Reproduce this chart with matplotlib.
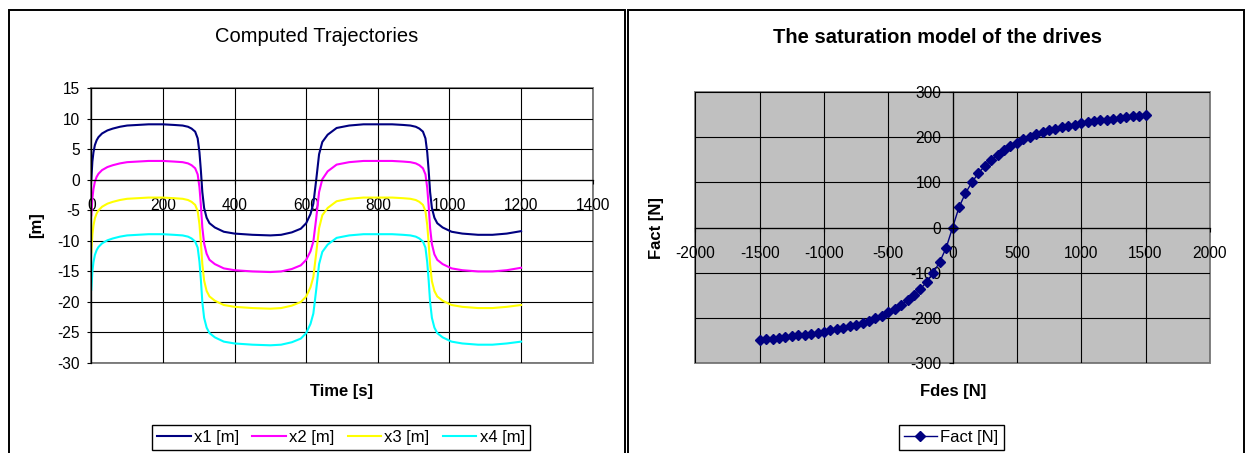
import matplotlib.pyplot as plt
from matplotlib.patches import Rectangle

plt.rcParams['font.family'] = ['Liberation Sans', 'DejaVu Sans']
plt.rcParams['axes.unicode_minus'] = False

# Траектории (время, с)
t = [0, 3, 6, 10, 15, 20, 30, 45, 60, 80,
     100, 130, 160, 200, 230, 255, 270, 280, 290, 297,
     302, 306, 310, 315, 322, 330, 345, 370, 400, 450,
     500, 530, 560, 585, 600, 612, 620, 628, 636, 645,
     660, 685, 720, 760, 800, 840, 870, 891, 906, 916,
     926, 933, 938, 942, 946, 951, 958, 966, 981, 1006,
     1036, 1080, 1120, 1160, 1200]

x1 = [0.0, 3.0, 4.5, 5.7, 6.5, 7.0, 7.6, 8.1, 8.4, 8.7,
      8.9, 9.0, 9.1, 9.1, 9.0, 8.9, 8.7, 8.4, 7.9, 6.8,
      4.5, 1.5, -2.0, -4.6, -6.2, -7.1, -7.8, -8.5, -8.8, -9.0,
      -9.1, -9.0, -8.6, -8.0, -7.1, -5.6, -3.9, 0.0, 4.2, 6.2,
      7.4, 8.5, 8.9, 9.1, 9.1, 9.1, 9.0, 8.9, 8.7, 8.4,
      7.9, 6.8, 4.5, 1.5, -2.0, -4.6, -6.2, -7.1, -7.8, -8.5,
      -8.8, -9.0, -9.0, -8.8, -8.4]

x2 = [-5.8, -3.0, -1.5, -0.3, 0.5, 1.0, 1.6, 2.1, 2.4, 2.7,
      2.9, 3.0, 3.1, 3.1, 3.0, 2.9, 2.7, 2.4, 1.9, 0.9,
      -1.2, -4.2, -7.8, -10.4, -12.1, -13.1, -13.8, -14.5, -14.8, -15.0,
      -15.1, -15.0, -14.6, -14.0, -13.1, -11.7, -10.1, -6.3, -2.0, 0.1,
      1.4, 2.5, 2.9, 3.1, 3.1, 3.1, 3.0, 2.9, 2.7, 2.4,
      1.9, 0.9, -1.3, -4.3, -7.9, -10.5, -12.2, -13.1, -13.8, -14.5,
      -14.8, -15.0, -15.0, -14.8, -14.4]

x3 = [-11.9, -9.0, -7.5, -6.3, -5.5, -5.0, -4.4, -3.9, -3.6, -3.3,
      -3.1, -3.0, -2.9, -2.9, -3.0, -3.1, -3.3, -3.6, -4.1, -5.1,
      -7.3, -10.3, -13.8, -16.5, -18.2, -19.1, -19.8, -20.5, -20.8, -21.0,
      -21.1, -21.0, -20.6, -20.0, -19.1, -17.6, -15.9, -12.0, -7.9, -5.8,
      -4.6, -3.5, -3.1, -2.9, -2.9, -2.9, -3.0, -3.1, -3.3, -3.6,
      -4.1, -5.1, -7.4, -10.4, -13.9, -16.6, -18.2, -19.1, -19.8, -20.5,
      -20.8, -21.0, -21.0, -20.8, -20.5]

x4 = [-18.0, -15.0, -13.5, -12.3, -11.5, -11.0, -10.4, -9.9, -9.6, -9.3,
      -9.1, -9.0, -8.9, -8.9, -9.0, -9.1, -9.3, -9.6, -10.1, -11.1,
      -13.4, -16.4, -20.0, -22.6, -24.2, -25.1, -25.8, -26.5, -26.8, -27.0,
      -27.1, -27.0, -26.6, -26.0, -25.1, -23.6, -21.9, -18.0, -13.8, -11.8,
      -10.6, -9.5, -9.1, -8.9, -8.9, -8.9, -9.0, -9.1, -9.3, -9.6,
      -10.1, -11.1, -13.5, -16.5, -20.0, -22.6, -24.2, -25.1, -25.8, -26.5,
      -26.8, -27.0, -27.0, -26.8, -26.5]

series = [("x1 [m]", x1, "#000080"), ("x2 [m]", x2, "#FF00FF"),
          ("x3 [m]", x3, "#FFFF00"), ("x4 [m]", x4, "#00FFFF")]

# Модель насыщения приводов
fdes = [-1500, -1450, -1400, -1350, -1300, -1250, -1200, -1150, -1100, -1050,
        -1000, -950, -900, -850, -800, -750, -700, -650, -600, -550,
        -500, -450, -400, -350, -300, -250, -200, -150, -100, -50,
        0, 50, 100, 150, 200, 250, 300, 350, 400, 450,
        500, 550, 600, 650, 700, 750, 800, 850, 900, 950,
        1000, 1050, 1100, 1150, 1200, 1250, 1300, 1350, 1400, 1450, 1500]
fact = [-248, -247, -246, -244, -243, -241, -239, -237, -235, -233,
        -231, -228, -225, -222, -219, -215, -211, -206, -201, -195,
        -188, -180, -171, -161, -149, -136, -120, -100, -76, -45,
        0, 45, 76, 100, 120, 136, 149, 161, 171, 180,
        188, 195, 201, 206, 211, 215, 219, 222, 225, 228,
        231, 233, 235, 237, 239, 241, 243, 244, 246, 247, 248]

W, H = 1245, 453
fig = plt.figure(figsize=(W / 100, H / 100), dpi=100)


def px_axes(x0, y0, x1_, y1_):
    return fig.add_axes([x0 / W, 1 - y1_ / H, (x1_ - x0) / W, (y1_ - y0) / H])


def fx(x):
    return x / W


def fy(y):
    return 1 - y / H


# рамки двух диаграмм
for (a, b) in [(8.8, 625), (628.3, 1244)]:
    fig.add_artist(Rectangle((fx(a), fy(470)), fx(b - a), (470 - 9.5) / H,
                             transform=fig.transFigure, fill=False,
                             edgecolor='black', linewidth=1.4))


def style_axes(ax):
    for s in ['top', 'right']:
        ax.spines[s].set_visible(False)
    ax.spines['left'].set_position(('data', 0))
    ax.spines['bottom'].set_position(('data', 0))
    ax.spines['left'].set_color('black')
    ax.spines['bottom'].set_color('black')
    ax.spines['left'].set_linewidth(0.9)
    ax.spines['bottom'].set_linewidth(0.9)
    ax.add_patch(Rectangle((0, 0), 1, 1, transform=ax.transAxes, fill=False,
                           edgecolor='#808080', linewidth=1.4, zorder=0.5,
                           clip_on=False))
    ax.grid(True, color='black', linewidth=0.8)
    ax.set_axisbelow(True)
    ax.tick_params(axis='both', direction='out', length=3.2, width=0.8,
                   labelsize=11.2, colors='black')
    ax.tick_params(axis='x', pad=10)
    ax.tick_params(axis='y', pad=5)


# --- левая диаграмма
ax1 = px_axes(91.3, 88.3, 592.7, 363)
for name, vals, col in series:
    ax1.plot(t, vals, color=col, linewidth=1.5, label=name)
ax1.set_xlim(0, 1400)
ax1.set_ylim(-30, 15)
ax1.set_xticks(range(0, 1401, 200))
ax1.set_yticks(range(-30, 16, 5))
style_axes(ax1)

fig.text(fx(316.9), fy(36), "Computed Trajectories", fontsize=14.5,
         ha='center', va='center')
fig.text(fx(36.7), fy(225), "[m]", fontsize=12, fontweight='bold',
         rotation=90, ha='center', va='center')
fig.text(fx(341.6), fy(391.7), "Time [s]", fontsize=12, fontweight='bold',
         ha='center', va='center')
h, l = ax1.get_legend_handles_labels()
fig.legend(h, l, ncol=4, loc='center', bbox_to_anchor=(fx(341), fy(437.7)),
           fontsize=12, frameon=True, fancybox=False, edgecolor='black',
           handlelength=2.0, handletextpad=0.2, columnspacing=0.8,
           borderpad=0.3, framealpha=1).get_frame().set_linewidth(1.0)

# --- правая диаграмма
ax2 = px_axes(695.4, 92, 1209.8, 363)
ax2.set_facecolor('#C0C0C0')
ax2.plot(fdes, fact, color='#000080', linewidth=1.0, marker='D',
         markersize=5, label="Fact [N]")
ax2.set_xlim(-2000, 2000)
ax2.set_ylim(-300, 300)
ax2.set_xticks(range(-2000, 2001, 500))
ax2.set_yticks(range(-300, 301, 100))
style_axes(ax2)

fig.text(fx(937.4), fy(37.3), "The saturation model of the drives",
         fontsize=14.5, fontweight='bold', ha='center', va='center')
fig.text(fx(656.6), fy(227.7), "Fact [N]", fontsize=12, fontweight='bold',
         rotation=90, ha='center', va='center')
fig.text(fx(953.2), fy(391.7), "Fdes [N]", fontsize=12, fontweight='bold',
         ha='center', va='center')
h, l = ax2.get_legend_handles_labels()
fig.legend(h, l, loc='center', bbox_to_anchor=(fx(951.2), fy(437.7)),
           fontsize=12, frameon=True, fancybox=False, edgecolor='black',
           handlelength=2.0, handletextpad=0.2, borderpad=0.3,
           framealpha=1).get_frame().set_linewidth(1.0)

fig.savefig("out.png", dpi=100)
